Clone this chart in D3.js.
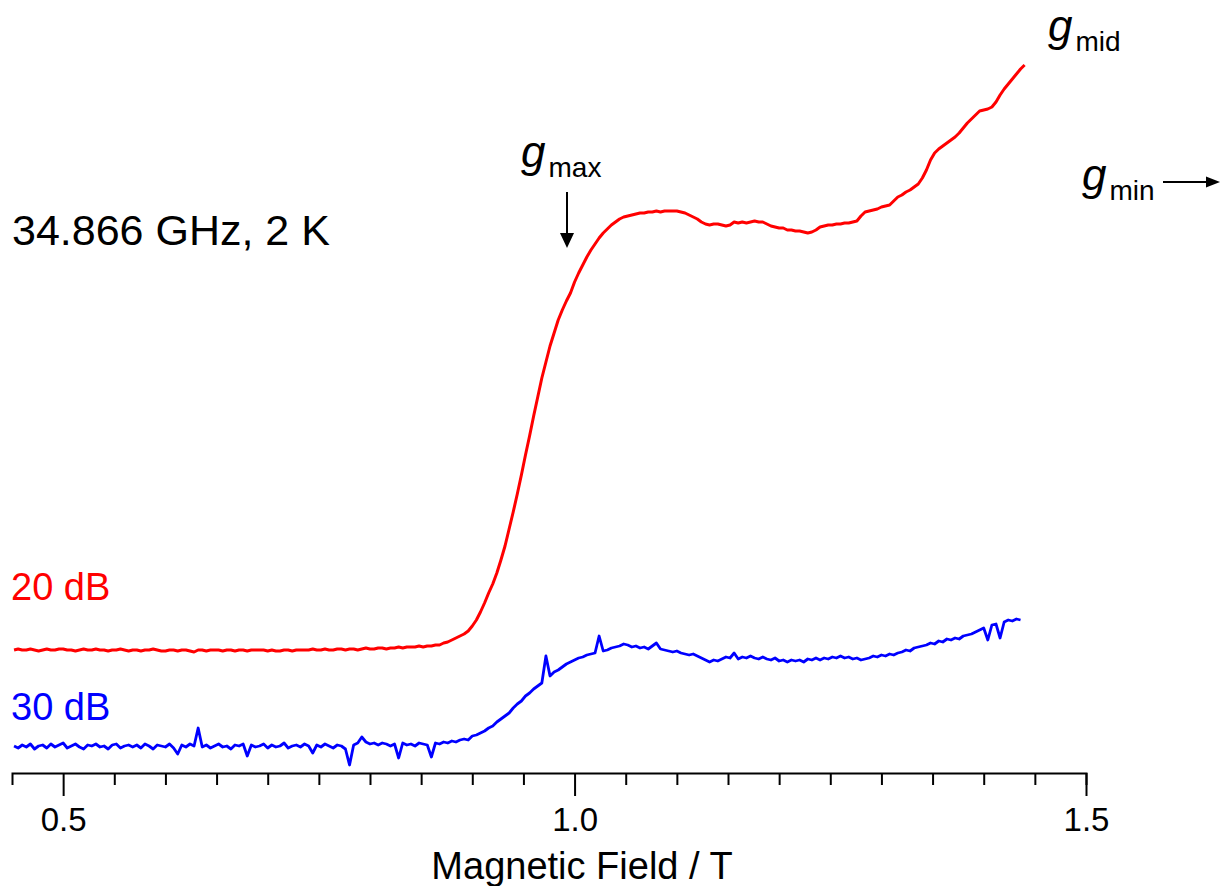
<!DOCTYPE html>
<html>
<head>
<meta charset="utf-8">
<script src="https://cdn.jsdelivr.net/npm/d3@7"></script>
<style>
  html, body { margin: 0; padding: 0; background: #fff; }
  svg { display: block; }
  text { font-family: "Liberation Sans", Arial, sans-serif; }
</style>
</head>
<body>
<svg id="chart" width="1220" height="886"></svg>
<script>
// ---- data ----
const fieldStart = 0.452;   // T
const fieldStep = 0.004;    // T per sample

// 20 dB trace, signal (a.u.) relative to its baseline
const red20dB = [
  0, 1, 0, 0, 1, 0, -1, 0, 1, 0,
  0, 1, 1, 0, 0, -1, 0, 1, 0, 0,
  1, 0, 0, -1, 0, 0, 1, 0, -1, 0,
  0, -1, 0, 0, 1, 0, -1, -1, 0, 0,
  -1, 0, 0, -1, -2, 0, 0, -1, 0, 0,
  0, -1, 0, 0, -1, 0, 0, -1, 0, 0,
  0, 0, -1, 0, -1, -1, 0, 0, -1, 0,
  0, 0, 0, 1, 0, 0, 1, 0, 0, 1,
  1, 0, 1, 1, 0, 1, 2, 1, 1, 2,
  2, 1, 2, 2, 3, 2, 3, 3, 3, 4,
  3, 4, 4, 5, 5, 7, 8, 10, 12, 14,
  16, 19, 24, 30, 38, 47, 57, 66, 77, 90,
  104, 121, 138, 156, 175, 195, 214, 234, 253, 272,
  288, 304, 317, 330, 340, 349, 357, 368, 377, 385,
  393, 400, 406, 412, 417, 421, 425, 428, 431, 433,
  434, 435, 436, 437, 437, 438, 438, 439, 438, 439,
  439, 439, 439, 438, 437, 435, 433, 431, 428, 426,
  425, 426, 426, 425, 424, 425, 428, 427, 428, 427,
  428, 429, 428, 428, 426, 424, 423, 422, 422, 420,
  420, 419, 419, 418, 417, 418, 420, 423, 424, 425,
  425, 426, 426, 427, 427, 428, 429, 434, 438, 439,
  440, 441, 443, 444, 445, 449, 453, 455, 458, 460,
  463, 466, 472, 480, 490, 497, 501, 504, 507, 510,
  513, 517, 522, 527, 531, 535, 539, 540, 541, 543,
  548, 555, 561, 566, 571, 576, 581, 585
];

// 30 dB trace, signal (a.u.) relative to its baseline
const blue30dB = [
  0, -2, 1, -1, 2, -3, 0, 1, -2, 2,
  -1, 1, 3, -2, 0, 2, -1, -3, 1, 0,
  2, -1, 0, -3, 1, 2, -2, 0, 1, -1,
  1, -2, 2, 0, -3, 1, 0, -1, 2, -2,
  -8, 1, -1, 2, 0, 18, -1, 1, -2, 0,
  2, -1, 0, -3, 1, 0, 2, -10, 1, -1,
  0, 2, -2, 1, -1, 0, 3, -2, 0, 1,
  -1, 2, 0, -7, 1, -1, 2, 0, -2, 1,
  0, -3, -19, 1, 3, 9, 4, 2, 3, 1,
  3, 2, 0, 2, -12, 3, 1, 2, 0, 3,
  2, 1, -11, 3, 2, 4, 3, 5, 4, 6,
  7, 6, 10, 11, 13, 15, 18, 20, 24, 27,
  30, 33, 38, 42, 45, 50, 53, 57, 60, 63,
  90, 70, 74, 76, 79, 82, 84, 86, 88, 89,
  91, 92, 93, 110, 95, 96, 98, 99, 100, 102,
  101, 99, 100, 98, 99, 97, 100, 103, 97, 96,
  95, 94, 95, 93, 92, 91, 92, 90, 88, 86,
  84, 86, 85, 87, 89, 88, 93, 87, 89, 88,
  90, 88, 87, 89, 87, 86, 88, 85, 86, 84,
  86, 85, 86, 84, 87, 86, 88, 86, 88, 87,
  89, 88, 90, 88, 89, 87, 88, 86, 87, 88,
  90, 89, 91, 90, 92, 91, 93, 94, 96, 95,
  98, 99, 100, 101, 103, 102, 105, 104, 107, 106,
  108, 107, 110, 111, 112, 114, 116, 118, 106, 121,
  122, 108, 124, 126, 125, 127, 126
];

const majorTicks = [0.5, 1.0, 1.5];
const minorTicks = [0.55, 0.6, 0.65, 0.7, 0.75, 0.8, 0.85, 0.9, 0.95,
                    1.05, 1.1, 1.15, 1.2, 1.25, 1.3, 1.35, 1.4, 1.45];
const seriesLabels = ["20 dB", "30 dB"];
const titleText = "34.866 GHz, 2 K";
const axisTitle = "Magnetic Field / T";

// ---- layout ----
const svg = d3.select("#chart");
const axisY = 773;
const x = d3.scaleLinear().domain([0.45, 1.5]).range([12, 1086]);
const y = d3.scaleLinear().domain([0, 773]).range([773, 0]);
const redOffset = 123, blueOffset = 27;

const line = (offset) => d3.line()
  .x((d, i) => x(fieldStart + i * fieldStep))
  .y(d => y(offset + d));

svg.append("path").datum(blue30dB)
  .attr("d", line(blueOffset))
  .attr("fill", "none").attr("stroke", "#0000ff")
  .attr("stroke-width", 2.8).attr("stroke-linejoin", "round");

svg.append("path").datum(red20dB)
  .attr("d", line(redOffset))
  .attr("fill", "none").attr("stroke", "#ff0000")
  .attr("stroke-width", 3).attr("stroke-linejoin", "round");

// ---- axis ----
const minorAxis = d3.axisBottom(x).tickValues(minorTicks).tickSize(12)
  .tickSizeOuter(12).tickFormat("");
const gMinor = svg.append("g").attr("transform", `translate(0,${axisY})`).call(minorAxis);
gMinor.select(".domain").attr("stroke", "#000").attr("stroke-width", 2);
gMinor.selectAll(".tick line").attr("stroke", "#000").attr("stroke-width", 2);

const majorAxis = d3.axisBottom(x).tickValues(majorTicks).tickSize(23)
  .tickFormat(d3.format(".1f"));
const gMajor = svg.append("g").attr("transform", `translate(0,${axisY})`).call(majorAxis);
gMajor.select(".domain").remove();
gMajor.selectAll(".tick line").attr("stroke", "#000").attr("stroke-width", 2);
gMajor.selectAll(".tick text")
  .attr("y", 58).attr("dy", null)
  .attr("font-size", 33)
  .attr("font-family", "'Liberation Sans', Arial, sans-serif")
  .attr("fill", "#000");

svg.append("text").attr("x", 582).attr("y", 879)
  .attr("text-anchor", "middle").attr("font-size", 38).text(axisTitle);

// ---- annotations ----
svg.append("text").attr("x", 12).attr("y", 245).attr("font-size", 43).text(titleText);
svg.append("text").attr("x", 11).attr("y", 600).attr("font-size", 38)
  .attr("fill", "#ff0000").text(seriesLabels[0]);
svg.append("text").attr("x", 11).attr("y", 720).attr("font-size", 38)
  .attr("fill", "#0000ff").text(seriesLabels[1]);

function gLabel(xp, yp, sub) {
  const t = svg.append("text").attr("x", xp).attr("y", yp);
  t.append("tspan").attr("font-size", 44).attr("font-style", "italic").text("g");
  t.append("tspan").attr("font-size", 28).attr("dx", 3).attr("dy", 10).text(sub);
}
gLabel(521, 167, "max");
gLabel(1048, 41, "mid");
gLabel(1082, 190, "min");

// arrows
svg.append("line").attr("x1", 567).attr("x2", 567).attr("y1", 192).attr("y2", 236)
  .attr("stroke", "#000").attr("stroke-width", 2);
svg.append("path").attr("d", "M560,233 L574,233 L567,248 Z").attr("fill", "#000");
svg.append("line").attr("x1", 1163).attr("x2", 1208).attr("y1", 182).attr("y2", 182)
  .attr("stroke", "#000").attr("stroke-width", 2);
svg.append("path").attr("d", "M1206,176.5 L1206,187.5 L1220,182 Z").attr("fill", "#000");
</script>
</body>
</html>
